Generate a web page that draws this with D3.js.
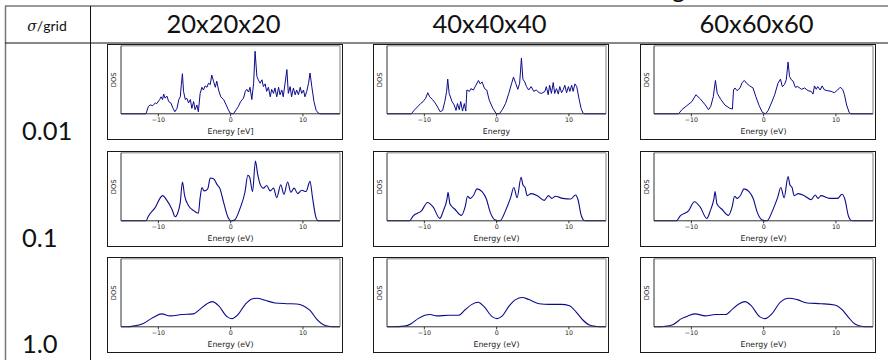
<!DOCTYPE html>
<html><head><meta charset="utf-8">
<script src="https://cdn.jsdelivr.net/npm/d3@7"></script>
<style>html,body{margin:0;padding:0;background:#fff;}svg{display:block;}</style>
</head><body>
<svg id="c" width="888" height="360"></svg>
<script>
// ---- data ----
const rowLabels = ["0.01", "0.1", "1.0"];
const colLabels = ["20x20x20", "40x40x40", "60x60x60"];
const xTicks = [-10, 0, 10];
const xAxisLabels = [
  ["Energy [eV]", "Energy", "Energy (eV)"],
  ["Energy (eV)", "Energy (eV)", "Energy (eV)"],
  ["Energy (eV)", "Energy (eV)", "Energy (eV)"]
];
// DOS values in % of panel height, [energy (eV), DOS]
const dos_s001_g20 = [[-15.1,0],[-11.65,0],[-11.3,11],[-11.05,13],[-10.7,12],[-10.35,16],[-10.15,15],[-9.75,21],[-9.55,25],[-9.35,21],[-9.2,29],[-9.0,23],[-8.75,26],[-8.5,18],[-8.2,16],[-7.9,8],[-7.65,3],[-7.35,8],[-7.1,21],[-6.9,25],[-6.75,43],[-6.6,59],[-6.45,33],[-6.2,21],[-6.0,23],[-5.75,16],[-5.5,21],[-5.3,8],[-5.05,18],[-4.85,6],[-4.6,13],[-4.4,3],[-4.15,30],[-3.9,39],[-3.7,35],[-3.45,41],[-3.2,39],[-3.0,45],[-2.75,43],[-2.55,57],[-2.3,48],[-2.05,39],[-1.85,48],[-1.6,35],[-1.3,25],[-0.9,21],[-0.55,13],[-0.25,6],[0,1],[0.45,0],[0.85,6],[1.15,11],[1.45,18],[1.85,23],[2.1,33],[2.3,36],[2.55,32],[2.75,39],[3.0,21],[3.25,45],[3.45,92],[3.7,55],[3.9,50],[4.15,45],[4.4,50],[4.6,40],[4.85,44],[5.05,33],[5.3,39],[5.55,25],[5.75,36],[6.0,30],[6.2,38],[6.45,25],[6.7,39],[6.9,28],[7.15,35],[7.35,25],[7.6,45],[7.85,65],[8.05,30],[8.3,40],[8.5,25],[8.75,38],[9.0,28],[9.2,35],[9.45,28],[9.7,39],[9.9,30],[10.15,35],[10.35,25],[10.6,33],[10.85,45],[11.05,60],[11.3,40],[11.6,18],[11.9,5],[12.2,1],[12.5,0],[15.2,0]];
const dos_s001_g40 = [[-15.1,0],[-11.75,0],[-11.35,5],[-10.9,10],[-10.45,15],[-10.1,18],[-9.75,23],[-9.45,31],[-9.2,25],[-8.8,21],[-8.45,16],[-8.1,10],[-7.75,3],[-7.4,5],[-7.1,18],[-6.85,33],[-6.7,51],[-6.5,30],[-6.1,18],[-5.8,13],[-5.55,5],[-5.35,15],[-5.1,6],[-4.9,18],[-4.65,4],[-4.4,15],[-4.2,4],[-4.05,35],[-3.7,33],[-3.5,37],[-3.15,35],[-2.8,42],[-2.45,49],[-2.2,44],[-1.95,47],[-1.6,37],[-1.3,35],[-0.95,20],[-0.45,8],[0,0.5],[0.45,0],[0.85,6],[1.3,15],[1.75,30],[2.15,45],[2.4,54],[2.7,45],[3.0,36],[3.25,45],[3.5,82],[3.7,51],[3.95,47],[4.2,40],[4.5,35],[4.85,40],[5.2,33],[5.55,35],[5.95,31],[6.3,30],[6.75,33],[6.95,40],[7.2,28],[7.4,42],[7.65,30],[7.9,46],[8.1,30],[8.35,37],[8.6,29],[8.8,40],[9.05,31],[9.3,36],[9.5,42],[9.75,31],[10.0,40],[10.2,33],[10.45,42],[10.65,33],[10.9,44],[11.15,40],[11.45,23],[11.75,8],[12.05,0.5],[12.3,0],[15.2,0]];
const dos_s001_g60 = [[-15.1,0],[-11.7,0],[-11.25,6],[-10.55,12],[-9.85,18],[-9.3,28],[-8.7,22],[-8.0,13],[-7.55,6],[-7.25,11],[-6.9,25],[-6.6,49],[-6.35,30],[-5.85,21],[-5.3,13],[-4.6,8],[-4.25,7],[-4.1,35],[-3.9,38],[-3.6,34],[-3.2,38],[-2.9,46],[-2.6,49],[-2.3,45],[-1.85,41],[-1.4,38],[-1.0,25],[-0.55,12],[-0.1,2],[0.35,0],[0.7,5],[1.15,16],[1.6,28],[2.05,45],[2.4,51],[2.65,40],[2.95,43],[3.2,50],[3.45,76],[3.65,55],[3.9,50],[4.15,48],[4.45,39],[4.8,40],[5.3,36],[5.75,38],[6.2,34],[6.65,33],[6.9,29],[7.1,41],[7.35,36],[7.55,40],[7.9,35],[8.15,41],[8.5,35],[8.95,34],[9.4,33],[9.85,31],[10.3,35],[10.65,39],[11.0,36],[11.25,28],[11.55,13],[11.9,2],[12.15,0],[15.2,0]];
const dos_s01_g20 = [[-15.1,0],[-11.65,0],[-11.3,7],[-10.4,19],[-9.35,37],[-8.75,30],[-8.05,17],[-7.6,6],[-7.3,10],[-6.9,27],[-6.6,57],[-6.3,37],[-5.75,22],[-5.05,15],[-4.4,11],[-4.15,34],[-3.9,49],[-3.6,44],[-3.1,47],[-2.75,63],[-2.3,62],[-1.85,54],[-1.4,47],[-0.9,27],[-0.25,4],[0.1,0],[0.6,1],[1.4,19],[2.05,42],[2.45,67],[2.7,64],[3.1,43],[3.5,88],[3.8,69],[4.15,54],[4.6,48],[5.05,52],[5.55,44],[6.0,48],[6.45,34],[7.0,53],[7.45,39],[7.95,57],[8.4,42],[8.85,48],[9.35,40],[9.9,45],[10.5,43],[11.05,58],[11.4,34],[11.9,4],[12.2,0],[15.2,0]];
const dos_s01_g40 = [[-15.1,0],[-12.0,0],[-11.5,7],[-10.3,15],[-9.5,27],[-8.7,20],[-7.8,3.5],[-7.3,15],[-6.8,32],[-6.65,42],[-6.4,25],[-5.7,17],[-4.8,8],[-4.3,20],[-3.95,36],[-3.6,33],[-3.1,38],[-2.65,47],[-1.95,43],[-1.35,32],[-0.8,12],[-0.1,1],[0.4,0],[0.6,0.5],[1.3,15],[2.0,34],[2.45,49],[2.9,34],[3.45,64],[3.7,53],[4.0,49],[4.3,37],[4.85,40],[5.7,37],[6.65,30],[7.25,37],[7.7,33],[8.2,36],[9.2,33],[10.3,32],[11.0,38],[11.3,32],[11.8,7],[12.1,1],[12.4,0],[15.2,0]];
const dos_s01_g60 = [[-15.1,0],[-12.0,0],[-11.5,7],[-10.3,15],[-9.5,28],[-8.7,20],[-7.8,3.5],[-7.3,15],[-6.8,33],[-6.65,43],[-6.4,25],[-5.7,17],[-4.8,8],[-4.3,20],[-3.95,36],[-3.6,33],[-3.1,38],[-2.65,47],[-1.95,43],[-1.35,32],[-0.8,12],[-0.1,1],[0.4,0],[0.6,0.5],[1.3,15],[2.0,34],[2.45,49],[2.9,34],[3.45,65],[3.7,53],[4.0,49],[4.3,37],[4.85,40],[5.7,37],[6.65,31],[7.2,38],[7.6,33],[8.0,37],[9.2,33],[10.3,33],[10.9,39],[11.3,32],[11.8,7],[12.1,1],[12.4,0],[15.2,0]];
const dos_s1_g20 = [[-15.1,0],[-14.2,0],[-13.4,1],[-12.0,5],[-10.6,14],[-9.45,19],[-8.3,16],[-6.7,18],[-5.1,19],[-4.15,26],[-3.2,34],[-2.45,37],[-1.6,31],[-0.45,15],[0.25,12],[1.0,17],[2.1,33],[3.0,41],[3.7,42],[4.85,39],[6.2,35],[7.85,34],[9.2,33.5],[10.1,31],[11.05,24],[12.0,11],[12.9,3],[13.8,0.5],[14.6,0],[15.2,0]];
const dos_s1_g40 = [[-15.1,0],[-14.3,0],[-12.65,1],[-11.7,5],[-10.8,12],[-9.85,17],[-9.15,18],[-8.2,16],[-6.6,17],[-5.2,17],[-4.3,25],[-3.35,33],[-2.5,36],[-1.7,30],[-0.55,15],[0.15,12],[0.85,16],[1.75,30],[2.7,40],[3.6,43],[4.55,40],[5.95,34],[7.35,33],[9.0,33],[10.15,31],[11.05,22],[12.0,10],[12.9,2.5],[13.85,0.5],[14.6,0],[15.2,0]];
const dos_s1_g60 = [[-15.1,0],[-14.4,0],[-13.7,0.5],[-12.5,3],[-11.3,12],[-10.4,16],[-9.4,19],[-8.0,16],[-6.6,18],[-5.2,18],[-4.25,26],[-3.3,34],[-2.5,37],[-1.65,31],[-0.5,15],[0.3,12],[1.2,19],[2.35,36],[3.55,42],[4.7,40],[6.1,35],[8.0,34],[9.9,32],[10.85,26],[11.8,14],[12.7,4],[13.7,0.5],[14.5,0],[15.2,0]];
const panels = [
  [dos_s001_g20, dos_s001_g40, dos_s001_g60],
  [dos_s01_g20, dos_s01_g40, dos_s01_g60],
  [dos_s1_g20, dos_s1_g40, dos_s1_g60]
];

// ---- layout ----
const svg = d3.select("#c");
const colX = [107, 373, 640];
const rowY = [44, 151, 257];
const frameW = 235, frameH = 95;
const lineColor = "#0b0b8c";
const headFont = "Lato, 'Open Sans', sans-serif";

svg.append("rect").attr("width", 888).attr("height", 360).attr("fill", "#fff");

// cut-off caption descender
svg.append("text").attr("x", 672).attr("y", -2).attr("font-family", headFont)
  .attr("font-size", 25).attr("fill", "#111").text("g");

// table lines
svg.append("line").attr("x1", 5).attr("x2", 888).attr("y1", 6).attr("y2", 6).attr("stroke", "#777").attr("stroke-width", 1.5);
svg.append("line").attr("x1", 5.5).attr("x2", 5.5).attr("y1", 6).attr("y2", 360).attr("stroke", "#777").attr("stroke-width", 1.5);
svg.append("line").attr("x1", 5).attr("x2", 888).attr("y1", 43).attr("y2", 43).attr("stroke", "#111").attr("stroke-width", 1);
svg.append("line").attr("x1", 90.5).attr("x2", 90.5).attr("y1", 6).attr("y2", 360).attr("stroke", "#111").attr("stroke-width", 1);

// header
const hdr = svg.append("text").attr("x", 47).attr("y", 31).attr("text-anchor", "middle")
  .attr("font-family", headFont).attr("font-size", 14).attr("fill", "#111");
hdr.append("tspan").attr("font-style", "italic").attr("font-family", "'DejaVu Serif', serif").text("σ");
hdr.append("tspan").text("/grid");

colLabels.forEach((t, j) => {
  svg.append("text").attr("x", colX[j] + frameW / 2 - 1).attr("y", 33)
    .attr("text-anchor", "middle").attr("font-family", headFont)
    .attr("font-size", 25.5).attr("fill", "#111").text(t);
});
rowLabels.forEach((t, i) => {
  svg.append("text").attr("x", 22).attr("y", rowY[i] + frameH + 0.5)
    .attr("font-family", headFont).attr("font-size", 25.5).attr("fill", "#111").text(t);
});

// panels
panels.forEach((row, i) => {
  row.forEach((data, j) => {
    const fx = colX[j], fy = rowY[i];
    const g = svg.append("g");
    const axL = fx + 14, axR = fx + 233, axT = fy + 1.8, axB = fy + 69.8;
    const x = d3.scaleLinear().domain([-15.1, 15.2]).range([axL, axR]);
    const y = d3.scaleLinear().domain([0, 100]).range([axB, axT]);

    // frame
    g.append("rect").attr("x", fx + 0.5).attr("y", fy + 0.5).attr("width", frameW).attr("height", frameH)
      .attr("fill", "#fff").attr("stroke", "#1a1a1a").attr("stroke-width", 1);

    // curve
    const line = d3.line().x(d => x(d[0])).y(d => y(d[1]))
      .curve(i === 0 ? d3.curveLinear : d3.curveMonotoneX);
    g.append("path").datum(data).attr("d", line).attr("fill", "none")
      .attr("stroke", lineColor).attr("stroke-width", i === 0 ? 1 : 1.1).attr("stroke-linejoin", "round");

    // spines
    g.append("line").attr("x1", axL).attr("x2", axR).attr("y1", axT).attr("y2", axT).attr("stroke", "#aaa").attr("stroke-width", 1.5);
    g.append("line").attr("x1", axR).attr("x2", axR).attr("y1", axT).attr("y2", axB).attr("stroke", "#aaa").attr("stroke-width", 1.5);
    g.append("line").attr("x1", axL).attr("x2", axL).attr("y1", axT).attr("y2", axB).attr("stroke", "#333").attr("stroke-width", 1);
    g.append("line").attr("x1", axL).attr("x2", axR).attr("y1", axB).attr("y2", axB).attr("stroke", "#333").attr("stroke-width", 1);

    // x axis
    const ax = g.append("g").attr("transform", `translate(0,${axB})`)
      .call(d3.axisBottom(x).tickValues(xTicks).tickSize(2.5).tickPadding(1.5).tickFormat(d3.format("d")));
    ax.select(".domain").remove();
    ax.selectAll("line").attr("stroke", "#333");
    ax.selectAll("text").attr("font-family", "'DejaVu Sans', sans-serif").attr("font-size", 6.3).attr("fill", "#222");

    g.append("text").attr("x", (axL + axR) / 2).attr("y", fy + 90)
      .attr("text-anchor", "middle").attr("font-family", "'DejaVu Sans', sans-serif")
      .attr("font-size", 7.8).attr("fill", "#222").text(xAxisLabels[i][j]);
    g.append("text").attr("transform", `translate(${fx + 8.5},${(axT + axB) / 2}) rotate(-90)`)
      .attr("text-anchor", "middle").attr("font-family", "'DejaVu Sans', sans-serif")
      .attr("font-size", 6.8).attr("fill", "#222").text("DOS");
  });
});
</script>
</body></html>
